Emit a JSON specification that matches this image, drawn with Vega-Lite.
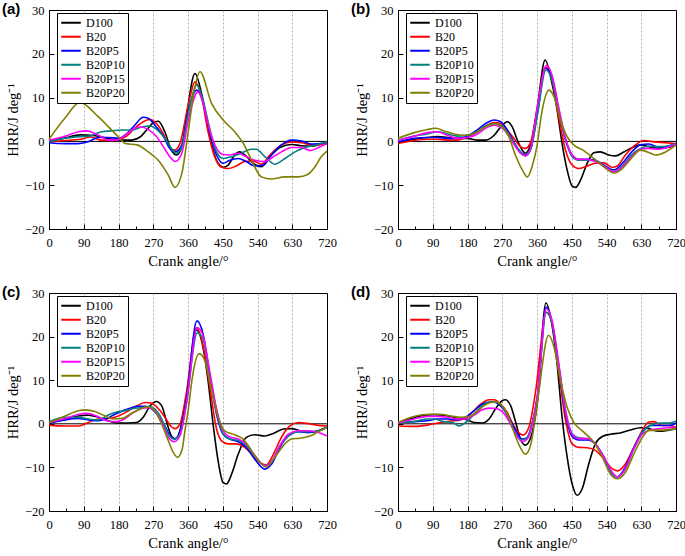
{
"$schema": "https://vega.github.io/schema/vega-lite/v6.json",
"padding": {"left": 1, "top": 1, "right": 0, "bottom": 0},
"background": "white",
"config": {
  "font": "Liberation Serif",
  "view": {"stroke": "black", "strokeWidth": 1},
  "axis": {"labelFont": "Liberation Serif", "labelFontSize": 12.5, "labelColor": "black", "titleFont": "Liberation Serif", "titleFontSize": 14.5, "titleFontWeight": "normal", "titleColor": "black", "domainColor": "black", "tickColor": "black", "gridColor": "#9a9a9a", "gridDash": [2, 2], "gridWidth": 0.8},
  "legend": {"labelFont": "Liberation Serif", "labelFontSize": 12, "labelColor": "black", "symbolType": "stroke", "symbolSize": 380, "symbolStrokeWidth": 2, "clipHeight": 13.6, "rowPadding": 0, "strokeColor": "black", "fillColor": "white", "padding": 3, "labelOffset": 4, "orient": "none", "legendX": 8, "legendY": 3},
  "title": {"font": "Liberation Sans", "fontWeight": "bold", "fontSize": 15, "anchor": "start", "frame": "group", "dx": -47, "dy": 17, "offset": 0, "baseline": "middle", "color": "black"}
},
"datasets": {
"a": [
{"s":"D100","x":0,"y":0},{"s":"D100","x":42,"y":0.8},{"s":"D100","x":81,"y":1.5},{"s":"D100","x":120,"y":1.3},{"s":"D100","x":162,"y":0.5},{"s":"D100","x":188,"y":0.3},{"s":"D100","x":214,"y":0.3},{"s":"D100","x":236,"y":1},{"s":"D100","x":253,"y":2.6},{"s":"D100","x":274,"y":4.5},{"s":"D100","x":283,"y":4.6},{"s":"D100","x":300,"y":2.2},{"s":"D100","x":317,"y":-2},{"s":"D100","x":330,"y":-3.1},{"s":"D100","x":344,"y":-1.2},{"s":"D100","x":357,"y":6.4},{"s":"D100","x":378,"y":15.5},{"s":"D100","x":395,"y":11},{"s":"D100","x":412,"y":3.3},{"s":"D100","x":425,"y":-2},{"s":"D100","x":438,"y":-5},{"s":"D100","x":451,"y":-5.9},{"s":"D100","x":464,"y":-5.4},{"s":"D100","x":481,"y":-3.1},{"s":"D100","x":494,"y":-2.4},{"s":"D100","x":507,"y":-3.1},{"s":"D100","x":529,"y":-5},{"s":"D100","x":550,"y":-5.8},{"s":"D100","x":572,"y":-3.5},{"s":"D100","x":598,"y":-1.4},{"s":"D100","x":628,"y":-0.7},{"s":"D100","x":654,"y":-1},{"s":"D100","x":680,"y":-1.1},{"s":"D100","x":720,"y":-0.1},
{"s":"B20","x":0,"y":-0.1},{"s":"B20","x":40,"y":0.2},{"s":"B20","x":81,"y":0.5},{"s":"B20","x":107,"y":1},{"s":"B20","x":133,"y":0.3},{"s":"B20","x":159,"y":0.2},{"s":"B20","x":180,"y":0.4},{"s":"B20","x":201,"y":1.2},{"s":"B20","x":222,"y":3},{"s":"B20","x":244,"y":4.5},{"s":"B20","x":261,"y":5},{"s":"B20","x":278,"y":4.1},{"s":"B20","x":296,"y":1.8},{"s":"B20","x":313,"y":-1.4},{"s":"B20","x":326,"y":-2},{"s":"B20","x":339,"y":-0.5},{"s":"B20","x":361,"y":8.5},{"s":"B20","x":378,"y":13.6},{"s":"B20","x":395,"y":10.2},{"s":"B20","x":412,"y":2.2},{"s":"B20","x":429,"y":-3.5},{"s":"B20","x":447,"y":-5.9},{"s":"B20","x":464,"y":-6.2},{"s":"B20","x":485,"y":-5.6},{"s":"B20","x":507,"y":-4.6},{"s":"B20","x":529,"y":-4.5},{"s":"B20","x":550,"y":-5.2},{"s":"B20","x":572,"y":-3.1},{"s":"B20","x":602,"y":-0.8},{"s":"B20","x":628,"y":-0.1},{"s":"B20","x":654,"y":-0.3},{"s":"B20","x":680,"y":-0.8},{"s":"B20","x":720,"y":-0.5},
{"s":"B20P5","x":0,"y":-0.3},{"s":"B20P5","x":42,"y":-0.5},{"s":"B20P5","x":76,"y":-0.5},{"s":"B20P5","x":102,"y":-0.1},{"s":"B20P5","x":128,"y":0.9},{"s":"B20P5","x":153,"y":0.9},{"s":"B20P5","x":180,"y":0.7},{"s":"B20P5","x":201,"y":1.7},{"s":"B20P5","x":222,"y":3.7},{"s":"B20P5","x":244,"y":5.5},{"s":"B20P5","x":257,"y":5.3},{"s":"B20P5","x":278,"y":3.3},{"s":"B20P5","x":296,"y":1.2},{"s":"B20P5","x":313,"y":-1.6},{"s":"B20P5","x":327,"y":-2.4},{"s":"B20P5","x":344,"y":-0.8},{"s":"B20P5","x":361,"y":7},{"s":"B20P5","x":383,"y":11.7},{"s":"B20P5","x":399,"y":9},{"s":"B20P5","x":416,"y":2.2},{"s":"B20P5","x":434,"y":-3.1},{"s":"B20P5","x":451,"y":-5},{"s":"B20P5","x":468,"y":-4.3},{"s":"B20P5","x":490,"y":-3.9},{"s":"B20P5","x":511,"y":-4.6},{"s":"B20P5","x":533,"y":-5.6},{"s":"B20P5","x":555,"y":-5.4},{"s":"B20P5","x":576,"y":-3.1},{"s":"B20P5","x":602,"y":-0.8},{"s":"B20P5","x":628,"y":0.3},{"s":"B20P5","x":654,"y":0.1},{"s":"B20P5","x":680,"y":-0.6},{"s":"B20P5","x":720,"y":-0.3},
{"s":"B20P10","x":0,"y":-0.1},{"s":"B20P10","x":42,"y":0.7},{"s":"B20P10","x":76,"y":1.1},{"s":"B20P10","x":102,"y":1.2},{"s":"B20P10","x":136,"y":2.2},{"s":"B20P10","x":162,"y":2.4},{"s":"B20P10","x":188,"y":2.6},{"s":"B20P10","x":214,"y":2.6},{"s":"B20P10","x":240,"y":3.3},{"s":"B20P10","x":261,"y":3.5},{"s":"B20P10","x":283,"y":2.4},{"s":"B20P10","x":300,"y":0.7},{"s":"B20P10","x":317,"y":-1.6},{"s":"B20P10","x":330,"y":-2.7},{"s":"B20P10","x":344,"y":-1.2},{"s":"B20P10","x":361,"y":6.5},{"s":"B20P10","x":383,"y":12.9},{"s":"B20P10","x":399,"y":9.4},{"s":"B20P10","x":416,"y":3},{"s":"B20P10","x":434,"y":-2.4},{"s":"B20P10","x":451,"y":-3.9},{"s":"B20P10","x":473,"y":-3.5},{"s":"B20P10","x":498,"y":-2.7},{"s":"B20P10","x":524,"y":-1.8},{"s":"B20P10","x":537,"y":-1.8},{"s":"B20P10","x":559,"y":-3.5},{"s":"B20P10","x":585,"y":-5.2},{"s":"B20P10","x":611,"y":-3.9},{"s":"B20P10","x":637,"y":-2.4},{"s":"B20P10","x":663,"y":-1.4},{"s":"B20P10","x":693,"y":-0.8},{"s":"B20P10","x":720,"y":-0.1},
{"s":"B20P15","x":0,"y":0.3},{"s":"B20P15","x":42,"y":1.2},{"s":"B20P15","x":76,"y":2.2},{"s":"B20P15","x":98,"y":2.4},{"s":"B20P15","x":128,"y":1.4},{"s":"B20P15","x":153,"y":0.3},{"s":"B20P15","x":175,"y":0.3},{"s":"B20P15","x":197,"y":1.4},{"s":"B20P15","x":222,"y":3},{"s":"B20P15","x":240,"y":3.3},{"s":"B20P15","x":257,"y":2.7},{"s":"B20P15","x":278,"y":1.2},{"s":"B20P15","x":296,"y":-1.2},{"s":"B20P15","x":313,"y":-3.5},{"s":"B20P15","x":327,"y":-4.6},{"s":"B20P15","x":344,"y":-2.7},{"s":"B20P15","x":361,"y":5},{"s":"B20P15","x":386,"y":11.3},{"s":"B20P15","x":399,"y":8.7},{"s":"B20P15","x":416,"y":2.6},{"s":"B20P15","x":434,"y":-1.6},{"s":"B20P15","x":451,"y":-3},{"s":"B20P15","x":468,"y":-3.1},{"s":"B20P15","x":490,"y":-2.7},{"s":"B20P15","x":511,"y":-3.5},{"s":"B20P15","x":533,"y":-4.3},{"s":"B20P15","x":559,"y":-4.6},{"s":"B20P15","x":581,"y":-3.5},{"s":"B20P15","x":602,"y":-2.4},{"s":"B20P15","x":628,"y":-1.4},{"s":"B20P15","x":654,"y":-1.4},{"s":"B20P15","x":676,"y":-2.1},{"s":"B20P15","x":698,"y":-1.4},{"s":"B20P15","x":720,"y":-0.5},
{"s":"B20P20","x":0,"y":0.5},{"s":"B20P20","x":42,"y":5.4},{"s":"B20P20","x":80,"y":8.9},{"s":"B20P20","x":128,"y":5.6},{"s":"B20P20","x":180,"y":1},{"s":"B20P20","x":198,"y":-0.5},{"s":"B20P20","x":228,"y":-0.8},{"s":"B20P20","x":257,"y":-2.4},{"s":"B20P20","x":283,"y":-4.3},{"s":"B20P20","x":309,"y":-7.7},{"s":"B20P20","x":326,"y":-10.5},{"s":"B20P20","x":344,"y":-7.3},{"s":"B20P20","x":361,"y":2.5},{"s":"B20P20","x":375,"y":11},{"s":"B20P20","x":391,"y":15.9},{"s":"B20P20","x":421,"y":8.7},{"s":"B20P20","x":451,"y":4.9},{"s":"B20P20","x":481,"y":2.2},{"s":"B20P20","x":503,"y":-0.4},{"s":"B20P20","x":524,"y":-4.2},{"s":"B20P20","x":550,"y":-8.1},{"s":"B20P20","x":576,"y":-8.6},{"s":"B20P20","x":610,"y":-8.1},{"s":"B20P20","x":645,"y":-8.1},{"s":"B20P20","x":671,"y":-7.5},{"s":"B20P20","x":689,"y":-5.8},{"s":"B20P20","x":705,"y":-3.5},{"s":"B20P20","x":720,"y":-2.2}
],
"b": [
{"s":"D100","x":0,"y":-0.3},{"s":"D100","x":42,"y":0.5},{"s":"D100","x":76,"y":0.9},{"s":"D100","x":102,"y":1.1},{"s":"D100","x":128,"y":0.9},{"s":"D100","x":153,"y":0.7},{"s":"D100","x":180,"y":0.7},{"s":"D100","x":206,"y":0.3},{"s":"D100","x":227,"y":0.3},{"s":"D100","x":249,"y":1.4},{"s":"D100","x":266,"y":3.3},{"s":"D100","x":283,"y":4.5},{"s":"D100","x":296,"y":3.3},{"s":"D100","x":309,"y":0.3},{"s":"D100","x":322,"y":-2},{"s":"D100","x":330,"y":-2.7},{"s":"D100","x":344,"y":-0.5},{"s":"D100","x":361,"y":7.9},{"s":"D100","x":381,"y":18.6},{"s":"D100","x":399,"y":13.2},{"s":"D100","x":412,"y":7.2},{"s":"D100","x":425,"y":-0.5},{"s":"D100","x":438,"y":-6.5},{"s":"D100","x":451,"y":-10.2},{"s":"D100","x":460,"y":-10.5},{"s":"D100","x":473,"y":-8.8},{"s":"D100","x":490,"y":-5},{"s":"D100","x":507,"y":-2.6},{"s":"D100","x":524,"y":-2.4},{"s":"D100","x":546,"y":-3.1},{"s":"D100","x":563,"y":-3.3},{"s":"D100","x":585,"y":-2.4},{"s":"D100","x":607,"y":-1.4},{"s":"D100","x":628,"y":-0.8},{"s":"D100","x":650,"y":-1.2},{"s":"D100","x":672,"y":-1.6},{"s":"D100","x":698,"y":-1.4},{"s":"D100","x":720,"y":-0.8},
{"s":"B20","x":0,"y":-0.5},{"s":"B20","x":42,"y":0.2},{"s":"B20","x":76,"y":0.5},{"s":"B20","x":102,"y":0.5},{"s":"B20","x":128,"y":0.3},{"s":"B20","x":153,"y":0.3},{"s":"B20","x":180,"y":1.1},{"s":"B20","x":206,"y":2.2},{"s":"B20","x":227,"y":3.5},{"s":"B20","x":249,"y":4.3},{"s":"B20","x":266,"y":4.1},{"s":"B20","x":283,"y":2.6},{"s":"B20","x":300,"y":0.7},{"s":"B20","x":317,"y":-1.2},{"s":"B20","x":330,"y":-1.6},{"s":"B20","x":344,"y":-0.1},{"s":"B20","x":361,"y":7.2},{"s":"B20","x":382,"y":17},{"s":"B20","x":399,"y":14},{"s":"B20","x":416,"y":5.6},{"s":"B20","x":434,"y":-2},{"s":"B20","x":451,"y":-5.4},{"s":"B20","x":468,"y":-6.2},{"s":"B20","x":490,"y":-5.6},{"s":"B20","x":511,"y":-5},{"s":"B20","x":533,"y":-4.9},{"s":"B20","x":555,"y":-5.9},{"s":"B20","x":568,"y":-5.6},{"s":"B20","x":589,"y":-3.1},{"s":"B20","x":611,"y":-1.1},{"s":"B20","x":637,"y":0.2},{"s":"B20","x":663,"y":-0.1},{"s":"B20","x":693,"y":-0.3},{"s":"B20","x":720,"y":-0.5},
{"s":"B20P5","x":0,"y":-0.1},{"s":"B20P5","x":42,"y":0.7},{"s":"B20P5","x":76,"y":0.9},{"s":"B20P5","x":102,"y":0.9},{"s":"B20P5","x":128,"y":0.7},{"s":"B20P5","x":153,"y":0.7},{"s":"B20P5","x":180,"y":1.2},{"s":"B20P5","x":206,"y":2.7},{"s":"B20P5","x":227,"y":4.1},{"s":"B20P5","x":249,"y":4.9},{"s":"B20P5","x":266,"y":4.5},{"s":"B20P5","x":283,"y":2.6},{"s":"B20P5","x":300,"y":-0.1},{"s":"B20P5","x":317,"y":-2.4},{"s":"B20P5","x":330,"y":-3.1},{"s":"B20P5","x":344,"y":-1.6},{"s":"B20P5","x":361,"y":6.4},{"s":"B20P5","x":382,"y":16.7},{"s":"B20P5","x":399,"y":14.4},{"s":"B20P5","x":416,"y":7.2},{"s":"B20P5","x":434,"y":0.3},{"s":"B20P5","x":451,"y":-3.1},{"s":"B20P5","x":468,"y":-4.1},{"s":"B20P5","x":490,"y":-4.1},{"s":"B20P5","x":511,"y":-4.3},{"s":"B20P5","x":533,"y":-5.4},{"s":"B20P5","x":559,"y":-6.5},{"s":"B20P5","x":581,"y":-5},{"s":"B20P5","x":602,"y":-2.7},{"s":"B20P5","x":628,"y":-0.8},{"s":"B20P5","x":650,"y":-0.6},{"s":"B20P5","x":676,"y":-1.4},{"s":"B20P5","x":698,"y":-1.1},{"s":"B20P5","x":720,"y":-0.5},
{"s":"B20P10","x":0,"y":0.3},{"s":"B20P10","x":42,"y":1.2},{"s":"B20P10","x":76,"y":1.7},{"s":"B20P10","x":102,"y":2.2},{"s":"B20P10","x":128,"y":1.7},{"s":"B20P10","x":153,"y":1.2},{"s":"B20P10","x":180,"y":1.4},{"s":"B20P10","x":206,"y":2.2},{"s":"B20P10","x":227,"y":3.5},{"s":"B20P10","x":249,"y":4.1},{"s":"B20P10","x":266,"y":3.7},{"s":"B20P10","x":283,"y":2.2},{"s":"B20P10","x":300,"y":-0.3},{"s":"B20P10","x":317,"y":-2.4},{"s":"B20P10","x":330,"y":-3.3},{"s":"B20P10","x":344,"y":-1.8},{"s":"B20P10","x":361,"y":6},{"s":"B20P10","x":383,"y":16.3},{"s":"B20P10","x":399,"y":14},{"s":"B20P10","x":416,"y":7.2},{"s":"B20P10","x":434,"y":0.3},{"s":"B20P10","x":451,"y":-3.5},{"s":"B20P10","x":468,"y":-4.3},{"s":"B20P10","x":490,"y":-4.3},{"s":"B20P10","x":511,"y":-4.4},{"s":"B20P10","x":533,"y":-5.6},{"s":"B20P10","x":559,"y":-6.8},{"s":"B20P10","x":581,"y":-5.6},{"s":"B20P10","x":602,"y":-3.3},{"s":"B20P10","x":628,"y":-1.6},{"s":"B20P10","x":650,"y":-1.1},{"s":"B20P10","x":676,"y":-1.2},{"s":"B20P10","x":698,"y":-1.1},{"s":"B20P10","x":720,"y":-0.5},
{"s":"B20P15","x":0,"y":0.2},{"s":"B20P15","x":42,"y":1.2},{"s":"B20P15","x":76,"y":2},{"s":"B20P15","x":102,"y":2.2},{"s":"B20P15","x":128,"y":1.4},{"s":"B20P15","x":153,"y":0.7},{"s":"B20P15","x":180,"y":0.9},{"s":"B20P15","x":206,"y":1.7},{"s":"B20P15","x":227,"y":3},{"s":"B20P15","x":249,"y":3.7},{"s":"B20P15","x":266,"y":3.3},{"s":"B20P15","x":283,"y":1.8},{"s":"B20P15","x":300,"y":-0.6},{"s":"B20P15","x":317,"y":-2.7},{"s":"B20P15","x":330,"y":-3.3},{"s":"B20P15","x":344,"y":-1.4},{"s":"B20P15","x":361,"y":8},{"s":"B20P15","x":385,"y":17.4},{"s":"B20P15","x":399,"y":15.1},{"s":"B20P15","x":416,"y":7.9},{"s":"B20P15","x":434,"y":0.7},{"s":"B20P15","x":451,"y":-3.1},{"s":"B20P15","x":468,"y":-4.1},{"s":"B20P15","x":490,"y":-4.1},{"s":"B20P15","x":511,"y":-4.6},{"s":"B20P15","x":533,"y":-5.6},{"s":"B20P15","x":559,"y":-6.9},{"s":"B20P15","x":581,"y":-5.8},{"s":"B20P15","x":602,"y":-3.7},{"s":"B20P15","x":628,"y":-1.8},{"s":"B20P15","x":650,"y":-1.6},{"s":"B20P15","x":676,"y":-1.8},{"s":"B20P15","x":698,"y":-1.4},{"s":"B20P15","x":720,"y":-0.6},
{"s":"B20P20","x":0,"y":0.7},{"s":"B20P20","x":42,"y":2},{"s":"B20P20","x":76,"y":2.7},{"s":"B20P20","x":98,"y":3},{"s":"B20P20","x":119,"y":2.4},{"s":"B20P20","x":145,"y":1.7},{"s":"B20P20","x":171,"y":1.4},{"s":"B20P20","x":192,"y":1.7},{"s":"B20P20","x":214,"y":2.7},{"s":"B20P20","x":236,"y":3.7},{"s":"B20P20","x":253,"y":4},{"s":"B20P20","x":270,"y":3.3},{"s":"B20P20","x":287,"y":1.1},{"s":"B20P20","x":304,"y":-3.1},{"s":"B20P20","x":322,"y":-6.5},{"s":"B20P20","x":335,"y":-8.1},{"s":"B20P20","x":348,"y":-5.5},{"s":"B20P20","x":360,"y":-1},{"s":"B20P20","x":372,"y":6.4},{"s":"B20P20","x":391,"y":11.7},{"s":"B20P20","x":404,"y":10.2},{"s":"B20P20","x":421,"y":4.9},{"s":"B20P20","x":438,"y":1.1},{"s":"B20P20","x":455,"y":-0.8},{"s":"B20P20","x":481,"y":-2.1},{"s":"B20P20","x":507,"y":-3.9},{"s":"B20P20","x":533,"y":-5.8},{"s":"B20P20","x":559,"y":-7.2},{"s":"B20P20","x":581,"y":-6.2},{"s":"B20P20","x":602,"y":-4.1},{"s":"B20P20","x":628,"y":-2},{"s":"B20P20","x":646,"y":-2.4},{"s":"B20P20","x":667,"y":-3.1},{"s":"B20P20","x":693,"y":-2.4},{"s":"B20P20","x":720,"y":-0.8}
],
"c": [
{"s":"D100","x":0,"y":0.2},{"s":"D100","x":42,"y":1.1},{"s":"D100","x":76,"y":1.8},{"s":"D100","x":102,"y":2},{"s":"D100","x":128,"y":1.5},{"s":"D100","x":153,"y":0.7},{"s":"D100","x":180,"y":0.2},{"s":"D100","x":206,"y":0.2},{"s":"D100","x":227,"y":0.3},{"s":"D100","x":244,"y":1.5},{"s":"D100","x":261,"y":4},{"s":"D100","x":278,"y":5.1},{"s":"D100","x":292,"y":4.1},{"s":"D100","x":305,"y":0.3},{"s":"D100","x":317,"y":-2.8},{"s":"D100","x":327,"y":-3.5},{"s":"D100","x":339,"y":-1.6},{"s":"D100","x":356,"y":6.4},{"s":"D100","x":382,"y":21.5},{"s":"D100","x":399,"y":17.5},{"s":"D100","x":412,"y":9.9},{"s":"D100","x":425,"y":-0.1},{"s":"D100","x":438,"y":-8.5},{"s":"D100","x":451,"y":-13.5},{"s":"D100","x":460,"y":-13.8},{"s":"D100","x":473,"y":-11.5},{"s":"D100","x":490,"y":-7},{"s":"D100","x":511,"y":-3.1},{"s":"D100","x":533,"y":-2.5},{"s":"D100","x":559,"y":-2.8},{"s":"D100","x":581,"y":-2.2},{"s":"D100","x":607,"y":-1.2},{"s":"D100","x":628,"y":-1.1},{"s":"D100","x":650,"y":-1.6},{"s":"D100","x":676,"y":-2},{"s":"D100","x":698,"y":-1.6},{"s":"D100","x":720,"y":-0.8},
{"s":"B20","x":0,"y":-0.3},{"s":"B20","x":42,"y":-0.5},{"s":"B20","x":76,"y":-0.5},{"s":"B20","x":102,"y":0.3},{"s":"B20","x":128,"y":1.1},{"s":"B20","x":153,"y":1.2},{"s":"B20","x":180,"y":1.8},{"s":"B20","x":206,"y":3},{"s":"B20","x":227,"y":4.1},{"s":"B20","x":249,"y":4.9},{"s":"B20","x":266,"y":4.7},{"s":"B20","x":283,"y":3.5},{"s":"B20","x":300,"y":1.5},{"s":"B20","x":315,"y":-0.5},{"s":"B20","x":326,"y":-1.1},{"s":"B20","x":339,"y":-0.1},{"s":"B20","x":356,"y":7.2},{"s":"B20","x":382,"y":22},{"s":"B20","x":399,"y":17.9},{"s":"B20","x":416,"y":8.7},{"s":"B20","x":434,"y":-1.2},{"s":"B20","x":447,"y":-3.9},{"s":"B20","x":464,"y":-4.6},{"s":"B20","x":485,"y":-4.6},{"s":"B20","x":507,"y":-5.4},{"s":"B20","x":529,"y":-7.3},{"s":"B20","x":550,"y":-9.1},{"s":"B20","x":563,"y":-9.4},{"s":"B20","x":581,"y":-7},{"s":"B20","x":602,"y":-3.1},{"s":"B20","x":624,"y":-0.5},{"s":"B20","x":646,"y":0.3},{"s":"B20","x":667,"y":0.1},{"s":"B20","x":693,"y":-0.3},{"s":"B20","x":720,"y":-0.5},
{"s":"B20P5","x":0,"y":0.2},{"s":"B20P5","x":42,"y":0.9},{"s":"B20P5","x":76,"y":1.2},{"s":"B20P5","x":102,"y":0.9},{"s":"B20P5","x":128,"y":0.7},{"s":"B20P5","x":149,"y":1.2},{"s":"B20P5","x":171,"y":2.2},{"s":"B20P5","x":192,"y":3},{"s":"B20P5","x":214,"y":3.7},{"s":"B20P5","x":231,"y":4},{"s":"B20P5","x":249,"y":4},{"s":"B20P5","x":266,"y":3.4},{"s":"B20P5","x":283,"y":1.8},{"s":"B20P5","x":300,"y":-0.5},{"s":"B20P5","x":315,"y":-2.8},{"s":"B20P5","x":326,"y":-3.4},{"s":"B20P5","x":339,"y":-2},{"s":"B20P5","x":356,"y":5.7},{"s":"B20P5","x":383,"y":23.6},{"s":"B20P5","x":399,"y":20.6},{"s":"B20P5","x":416,"y":11.4},{"s":"B20P5","x":434,"y":2.2},{"s":"B20P5","x":451,"y":-2.4},{"s":"B20P5","x":468,"y":-3.5},{"s":"B20P5","x":490,"y":-4.1},{"s":"B20P5","x":511,"y":-5.4},{"s":"B20P5","x":533,"y":-8.1},{"s":"B20P5","x":559,"y":-10.4},{"s":"B20P5","x":576,"y":-9.3},{"s":"B20P5","x":598,"y":-5.4},{"s":"B20P5","x":620,"y":-2.8},{"s":"B20P5","x":646,"y":-1.8},{"s":"B20P5","x":672,"y":-2},{"s":"B20P5","x":698,"y":-1.6},{"s":"B20P5","x":720,"y":-0.8},
{"s":"B20P10","x":0,"y":0.5},{"s":"B20P10","x":42,"y":1.5},{"s":"B20P10","x":76,"y":1.5},{"s":"B20P10","x":102,"y":1.1},{"s":"B20P10","x":128,"y":0.9},{"s":"B20P10","x":149,"y":1.8},{"s":"B20P10","x":171,"y":2.6},{"s":"B20P10","x":197,"y":3},{"s":"B20P10","x":218,"y":3.5},{"s":"B20P10","x":240,"y":3.7},{"s":"B20P10","x":257,"y":4},{"s":"B20P10","x":274,"y":3.4},{"s":"B20P10","x":292,"y":1.1},{"s":"B20P10","x":309,"y":-2.4},{"s":"B20P10","x":324,"y":-3.5},{"s":"B20P10","x":339,"y":-2.4},{"s":"B20P10","x":356,"y":4.9},{"s":"B20P10","x":384,"y":20.9},{"s":"B20P10","x":399,"y":19.4},{"s":"B20P10","x":416,"y":11.4},{"s":"B20P10","x":434,"y":3},{"s":"B20P10","x":451,"y":-2.4},{"s":"B20P10","x":468,"y":-3.5},{"s":"B20P10","x":490,"y":-3.8},{"s":"B20P10","x":511,"y":-5},{"s":"B20P10","x":533,"y":-7.5},{"s":"B20P10","x":559,"y":-9.6},{"s":"B20P10","x":578,"y":-8.5},{"s":"B20P10","x":598,"y":-5},{"s":"B20P10","x":620,"y":-2.8},{"s":"B20P10","x":646,"y":-1.8},{"s":"B20P10","x":672,"y":-1.8},{"s":"B20P10","x":698,"y":-1.6},{"s":"B20P10","x":720,"y":-0.7},
{"s":"B20P15","x":0,"y":0.3},{"s":"B20P15","x":42,"y":1.2},{"s":"B20P15","x":76,"y":2.2},{"s":"B20P15","x":98,"y":2.4},{"s":"B20P15","x":123,"y":1.8},{"s":"B20P15","x":149,"y":0.7},{"s":"B20P15","x":175,"y":0.5},{"s":"B20P15","x":197,"y":1.2},{"s":"B20P15","x":218,"y":2.6},{"s":"B20P15","x":240,"y":3.5},{"s":"B20P15","x":257,"y":3.7},{"s":"B20P15","x":274,"y":3},{"s":"B20P15","x":292,"y":0.3},{"s":"B20P15","x":309,"y":-3.1},{"s":"B20P15","x":324,"y":-4.1},{"s":"B20P15","x":339,"y":-2.8},{"s":"B20P15","x":356,"y":4.5},{"s":"B20P15","x":384,"y":22.1},{"s":"B20P15","x":399,"y":20.2},{"s":"B20P15","x":416,"y":12.2},{"s":"B20P15","x":434,"y":3.4},{"s":"B20P15","x":451,"y":-1.6},{"s":"B20P15","x":468,"y":-3},{"s":"B20P15","x":490,"y":-3.5},{"s":"B20P15","x":511,"y":-4.7},{"s":"B20P15","x":533,"y":-7.3},{"s":"B20P15","x":559,"y":-9.6},{"s":"B20P15","x":578,"y":-8.5},{"s":"B20P15","x":598,"y":-5},{"s":"B20P15","x":620,"y":-2.4},{"s":"B20P15","x":646,"y":-1.6},{"s":"B20P15","x":672,"y":-1.6},{"s":"B20P15","x":698,"y":-2},{"s":"B20P15","x":720,"y":-2.8},
{"s":"B20P20","x":0,"y":0.3},{"s":"B20P20","x":42,"y":1.8},{"s":"B20P20","x":76,"y":3},{"s":"B20P20","x":93,"y":3.2},{"s":"B20P20","x":119,"y":2.8},{"s":"B20P20","x":145,"y":1.8},{"s":"B20P20","x":166,"y":1.1},{"s":"B20P20","x":188,"y":1.2},{"s":"B20P20","x":214,"y":2.4},{"s":"B20P20","x":240,"y":3.5},{"s":"B20P20","x":257,"y":3.9},{"s":"B20P20","x":274,"y":3},{"s":"B20P20","x":292,"y":-0.1},{"s":"B20P20","x":309,"y":-3.9},{"s":"B20P20","x":322,"y":-6.6},{"s":"B20P20","x":333,"y":-7.7},{"s":"B20P20","x":345,"y":-5.8},{"s":"B20P20","x":352,"y":-1.6},{"s":"B20P20","x":361,"y":3.4},{"s":"B20P20","x":370,"y":9.9},{"s":"B20P20","x":389,"y":16.1},{"s":"B20P20","x":404,"y":14.4},{"s":"B20P20","x":421,"y":7.6},{"s":"B20P20","x":438,"y":1.5},{"s":"B20P20","x":455,"y":-1.6},{"s":"B20P20","x":481,"y":-2.5},{"s":"B20P20","x":503,"y":-3.5},{"s":"B20P20","x":524,"y":-6.1},{"s":"B20P20","x":546,"y":-8.8},{"s":"B20P20","x":563,"y":-9.9},{"s":"B20P20","x":585,"y":-7.7},{"s":"B20P20","x":607,"y":-5},{"s":"B20P20","x":628,"y":-3.5},{"s":"B20P20","x":650,"y":-3.3},{"s":"B20P20","x":676,"y":-2.8},{"s":"B20P20","x":698,"y":-1.8},{"s":"B20P20","x":720,"y":-0.8}
],
"d": [
{"s":"D100","x":0,"y":0.2},{"s":"D100","x":34,"y":1.2},{"s":"D100","x":68,"y":2},{"s":"D100","x":93,"y":2.1},{"s":"D100","x":119,"y":2},{"s":"D100","x":145,"y":1.5},{"s":"D100","x":171,"y":1.1},{"s":"D100","x":197,"y":0.3},{"s":"D100","x":218,"y":0.2},{"s":"D100","x":236,"y":1.1},{"s":"D100","x":253,"y":3.5},{"s":"D100","x":270,"y":5.3},{"s":"D100","x":278,"y":5.5},{"s":"D100","x":292,"y":4.1},{"s":"D100","x":305,"y":0.3},{"s":"D100","x":317,"y":-3.5},{"s":"D100","x":330,"y":-4.9},{"s":"D100","x":344,"y":-3.1},{"s":"D100","x":361,"y":4.9},{"s":"D100","x":383,"y":27.7},{"s":"D100","x":399,"y":22.6},{"s":"D100","x":412,"y":13.8},{"s":"D100","x":425,"y":1.5},{"s":"D100","x":438,"y":-7.6},{"s":"D100","x":451,"y":-13.8},{"s":"D100","x":464,"y":-16.4},{"s":"D100","x":477,"y":-14.9},{"s":"D100","x":494,"y":-9.2},{"s":"D100","x":511,"y":-4.6},{"s":"D100","x":529,"y":-2.9},{"s":"D100","x":550,"y":-2.4},{"s":"D100","x":576,"y":-2.1},{"s":"D100","x":602,"y":-1.4},{"s":"D100","x":628,"y":-0.9},{"s":"D100","x":650,"y":-1.1},{"s":"D100","x":672,"y":-1.7},{"s":"D100","x":698,"y":-1.5},{"s":"D100","x":720,"y":-1.1},
{"s":"B20","x":0,"y":-0.5},{"s":"B20","x":42,"y":-0.6},{"s":"B20","x":76,"y":-0.3},{"s":"B20","x":110,"y":0.3},{"s":"B20","x":145,"y":0.7},{"s":"B20","x":171,"y":1.1},{"s":"B20","x":192,"y":2.6},{"s":"B20","x":214,"y":4.5},{"s":"B20","x":236,"y":5.5},{"s":"B20","x":249,"y":5.5},{"s":"B20","x":266,"y":4.5},{"s":"B20","x":283,"y":2.6},{"s":"B20","x":300,"y":-0.5},{"s":"B20","x":313,"y":-2.1},{"s":"B20","x":324,"y":-2.6},{"s":"B20","x":339,"y":-0.8},{"s":"B20","x":356,"y":7.2},{"s":"B20","x":384,"y":25.6},{"s":"B20","x":399,"y":23},{"s":"B20","x":416,"y":12.2},{"s":"B20","x":434,"y":0.8},{"s":"B20","x":451,"y":-4.6},{"s":"B20","x":468,"y":-5.4},{"s":"B20","x":490,"y":-5.5},{"s":"B20","x":511,"y":-6.1},{"s":"B20","x":533,"y":-8},{"s":"B20","x":555,"y":-10.3},{"s":"B20","x":568,"y":-10.8},{"s":"B20","x":589,"y":-9.2},{"s":"B20","x":611,"y":-5.4},{"s":"B20","x":633,"y":-1.5},{"s":"B20","x":650,"y":0.4},{"s":"B20","x":663,"y":0.5},{"s":"B20","x":684,"y":-0.4},{"s":"B20","x":702,"y":-0.4},{"s":"B20","x":720,"y":-0.8},
{"s":"B20P5","x":0,"y":0.3},{"s":"B20P5","x":42,"y":0.5},{"s":"B20P5","x":76,"y":0.7},{"s":"B20P5","x":102,"y":1.1},{"s":"B20P5","x":128,"y":1.1},{"s":"B20P5","x":153,"y":0.9},{"s":"B20P5","x":175,"y":1.5},{"s":"B20P5","x":197,"y":3},{"s":"B20P5","x":218,"y":4.5},{"s":"B20P5","x":240,"y":5},{"s":"B20P5","x":253,"y":4.9},{"s":"B20P5","x":270,"y":3.7},{"s":"B20P5","x":287,"y":1.5},{"s":"B20P5","x":305,"y":-1.6},{"s":"B20P5","x":322,"y":-3.5},{"s":"B20P5","x":335,"y":-3.1},{"s":"B20P5","x":348,"y":0.3},{"s":"B20P5","x":361,"y":6.4},{"s":"B20P5","x":384,"y":26.8},{"s":"B20P5","x":399,"y":23.3},{"s":"B20P5","x":416,"y":13.4},{"s":"B20P5","x":434,"y":2.3},{"s":"B20P5","x":451,"y":-2.9},{"s":"B20P5","x":468,"y":-3.7},{"s":"B20P5","x":490,"y":-3.7},{"s":"B20P5","x":511,"y":-4.6},{"s":"B20P5","x":533,"y":-7.6},{"s":"B20P5","x":555,"y":-11.5},{"s":"B20P5","x":568,"y":-12.2},{"s":"B20P5","x":589,"y":-9.9},{"s":"B20P5","x":611,"y":-5.4},{"s":"B20P5","x":633,"y":-1.9},{"s":"B20P5","x":654,"y":-0.4},{"s":"B20P5","x":680,"y":-0.4},{"s":"B20P5","x":702,"y":-0.4},{"s":"B20P5","x":720,"y":0.2},
{"s":"B20P10","x":0,"y":0.3},{"s":"B20P10","x":42,"y":0.5},{"s":"B20P10","x":76,"y":1.1},{"s":"B20P10","x":93,"y":1.1},{"s":"B20P10","x":119,"y":0.5},{"s":"B20P10","x":141,"y":0.3},{"s":"B20P10","x":158,"y":-0.5},{"s":"B20P10","x":175,"y":0.3},{"s":"B20P10","x":197,"y":2.2},{"s":"B20P10","x":218,"y":4.1},{"s":"B20P10","x":240,"y":5},{"s":"B20P10","x":253,"y":5},{"s":"B20P10","x":270,"y":4},{"s":"B20P10","x":287,"y":1.1},{"s":"B20P10","x":305,"y":-2.4},{"s":"B20P10","x":322,"y":-3.7},{"s":"B20P10","x":335,"y":-3.1},{"s":"B20P10","x":348,"y":0.3},{"s":"B20P10","x":361,"y":6},{"s":"B20P10","x":384,"y":25.6},{"s":"B20P10","x":399,"y":23},{"s":"B20P10","x":416,"y":13.4},{"s":"B20P10","x":434,"y":2.7},{"s":"B20P10","x":451,"y":-2.3},{"s":"B20P10","x":468,"y":-3.2},{"s":"B20P10","x":490,"y":-3.4},{"s":"B20P10","x":511,"y":-4.6},{"s":"B20P10","x":533,"y":-8},{"s":"B20P10","x":555,"y":-11.5},{"s":"B20P10","x":568,"y":-12.2},{"s":"B20P10","x":589,"y":-10.3},{"s":"B20P10","x":611,"y":-5.7},{"s":"B20P10","x":633,"y":-1.9},{"s":"B20P10","x":654,"y":-0.4},{"s":"B20P10","x":680,"y":0.2},{"s":"B20P10","x":702,"y":0.2},{"s":"B20P10","x":720,"y":0.6},
{"s":"B20P15","x":0,"y":0.2},{"s":"B20P15","x":42,"y":1.1},{"s":"B20P15","x":76,"y":1.7},{"s":"B20P15","x":102,"y":1.7},{"s":"B20P15","x":128,"y":1.5},{"s":"B20P15","x":153,"y":1.1},{"s":"B20P15","x":175,"y":1.1},{"s":"B20P15","x":197,"y":2},{"s":"B20P15","x":218,"y":3.2},{"s":"B20P15","x":236,"y":3.6},{"s":"B20P15","x":253,"y":3.5},{"s":"B20P15","x":270,"y":2.8},{"s":"B20P15","x":287,"y":0.7},{"s":"B20P15","x":305,"y":-2.4},{"s":"B20P15","x":322,"y":-4.1},{"s":"B20P15","x":335,"y":-3.5},{"s":"B20P15","x":348,"y":-0.1},{"s":"B20P15","x":361,"y":6.4},{"s":"B20P15","x":384,"y":26.4},{"s":"B20P15","x":399,"y":23.7},{"s":"B20P15","x":416,"y":14.1},{"s":"B20P15","x":434,"y":3.1},{"s":"B20P15","x":451,"y":-2.3},{"s":"B20P15","x":468,"y":-3.4},{"s":"B20P15","x":490,"y":-3.4},{"s":"B20P15","x":511,"y":-4.6},{"s":"B20P15","x":533,"y":-7.5},{"s":"B20P15","x":555,"y":-11.1},{"s":"B20P15","x":568,"y":-12.2},{"s":"B20P15","x":589,"y":-10.3},{"s":"B20P15","x":611,"y":-5.7},{"s":"B20P15","x":633,"y":-2.3},{"s":"B20P15","x":654,"y":-1.4},{"s":"B20P15","x":680,"y":-1.1},{"s":"B20P15","x":702,"y":-0.9},{"s":"B20P15","x":720,"y":-0.8},
{"s":"B20P20","x":0,"y":0.3},{"s":"B20P20","x":34,"y":1.5},{"s":"B20P20","x":59,"y":2},{"s":"B20P20","x":85,"y":2.2},{"s":"B20P20","x":110,"y":2.2},{"s":"B20P20","x":136,"y":1.8},{"s":"B20P20","x":162,"y":1.5},{"s":"B20P20","x":184,"y":1.7},{"s":"B20P20","x":205,"y":2.8},{"s":"B20P20","x":222,"y":4.1},{"s":"B20P20","x":240,"y":4.9},{"s":"B20P20","x":253,"y":5},{"s":"B20P20","x":270,"y":4.1},{"s":"B20P20","x":287,"y":1.5},{"s":"B20P20","x":304,"y":-2.8},{"s":"B20P20","x":319,"y":-5.8},{"s":"B20P20","x":330,"y":-7},{"s":"B20P20","x":344,"y":-4.7},{"s":"B20P20","x":361,"y":4.9},{"s":"B20P20","x":390,"y":20.3},{"s":"B20P20","x":404,"y":17.6},{"s":"B20P20","x":421,"y":9.9},{"s":"B20P20","x":438,"y":3.8},{"s":"B20P20","x":455,"y":0.4},{"s":"B20P20","x":481,"y":-1.9},{"s":"B20P20","x":507,"y":-4.2},{"s":"B20P20","x":529,"y":-7.6},{"s":"B20P20","x":550,"y":-11.5},{"s":"B20P20","x":568,"y":-12.6},{"s":"B20P20","x":589,"y":-11.1},{"s":"B20P20","x":611,"y":-6.9},{"s":"B20P20","x":633,"y":-3.1},{"s":"B20P20","x":650,"y":-1.5},{"s":"B20P20","x":676,"y":-1.5},{"s":"B20P20","x":698,"y":-1.4},{"s":"B20P20","x":720,"y":-1.1}
]
},
"vconcat": [
 {"hconcat": [
  {"title": "(a)", "width": 278, "height": 219, "layer": [
   {"data": {"values": [{}]}, "mark": {"type": "rule", "color": "black", "strokeWidth": 1}, "encoding": {"y": {"datum": 0, "type": "quantitative"}}},
   {"data": {"name": "a"}, "mark": {"type": "line", "interpolate": "monotone", "strokeWidth": 1.6},
    "encoding": {
     "x": {"field": "x", "type": "quantitative", "title": "Crank angle/°", "scale": {"domain": [0, 720], "nice": false}, "axis": {"values": [0,45,90,135,180,225,270,315,360,405,450,495,540,585,630,675,720], "labelExpr": "datum.value % 90 === 0 ? datum.label : ''", "tickSize": {"condition": {"test": "datum.value % 90 === 0", "value": -5}, "value": -3}, "labelPadding": 12, "grid": true, "gridOpacity": {"condition": {"test": "datum.value % 90 === 0 && datum.value > 0 && datum.value < 720", "value": 1}, "value": 0}, "titlePadding": 6, "labelFlush": false}},
     "y": {"field": "y", "type": "quantitative", "title": "HRR/J deg⁻¹", "scale": {"domain": [-20, 30], "nice": false}, "axis": {"values": [-20,-15,-10,-5,0,5,10,15,20,25,30], "labelExpr": "datum.value % 10 === 0 ? datum.label : ''", "tickSize": {"condition": {"test": "datum.value % 10 === 0", "value": -5}, "value": -3}, "labelPadding": 10, "grid": false, "titlePadding": 4, "labelFlush": false}},
     "color": {"field": "s", "type": "nominal", "sort": null, "scale": {"domain": ["D100","B20","B20P5","B20P10","B20P15","B20P20"], "range": ["#000000","#ff0000","#0000ff","#008080","#ff00ff","#808000"]}, "legend": {"title": null}}
    }}
  ]},
  {"title": "(b)", "width": 278, "height": 219, "layer": [
   {"data": {"values": [{}]}, "mark": {"type": "rule", "color": "black", "strokeWidth": 1}, "encoding": {"y": {"datum": 0, "type": "quantitative"}}},
   {"data": {"name": "b"}, "mark": {"type": "line", "interpolate": "monotone", "strokeWidth": 1.6},
    "encoding": {
     "x": {"field": "x", "type": "quantitative", "title": "Crank angle/°", "scale": {"domain": [0, 720], "nice": false}, "axis": {"values": [0,45,90,135,180,225,270,315,360,405,450,495,540,585,630,675,720], "labelExpr": "datum.value % 90 === 0 ? datum.label : ''", "tickSize": {"condition": {"test": "datum.value % 90 === 0", "value": -5}, "value": -3}, "labelPadding": 12, "grid": true, "gridOpacity": {"condition": {"test": "datum.value % 90 === 0 && datum.value > 0 && datum.value < 720", "value": 1}, "value": 0}, "titlePadding": 6, "labelFlush": false}},
     "y": {"field": "y", "type": "quantitative", "title": "HRR/J deg⁻¹", "scale": {"domain": [-20, 30], "nice": false}, "axis": {"values": [-20,-15,-10,-5,0,5,10,15,20,25,30], "labelExpr": "datum.value % 10 === 0 ? datum.label : ''", "tickSize": {"condition": {"test": "datum.value % 10 === 0", "value": -5}, "value": -3}, "labelPadding": 10, "grid": false, "titlePadding": 4, "labelFlush": false}},
     "color": {"field": "s", "type": "nominal", "sort": null, "scale": {"domain": ["D100","B20","B20P5","B20P10","B20P15","B20P20"], "range": ["#000000","#ff0000","#0000ff","#008080","#ff00ff","#808000"]}, "legend": {"title": null}}
    }}
  ]}
 ], "spacing": 13, "resolve": {"scale": {"color": "independent"}, "legend": {"color": "independent"}}},
 {"hconcat": [
  {"title": "(c)", "width": 278, "height": 218, "layer": [
   {"data": {"values": [{}]}, "mark": {"type": "rule", "color": "black", "strokeWidth": 1}, "encoding": {"y": {"datum": 0, "type": "quantitative"}}},
   {"data": {"name": "c"}, "mark": {"type": "line", "interpolate": "monotone", "strokeWidth": 1.6},
    "encoding": {
     "x": {"field": "x", "type": "quantitative", "title": "Crank angle/°", "scale": {"domain": [0, 720], "nice": false}, "axis": {"values": [0,45,90,135,180,225,270,315,360,405,450,495,540,585,630,675,720], "labelExpr": "datum.value % 90 === 0 ? datum.label : ''", "tickSize": {"condition": {"test": "datum.value % 90 === 0", "value": -5}, "value": -3}, "labelPadding": 12, "grid": true, "gridOpacity": {"condition": {"test": "datum.value % 90 === 0 && datum.value > 0 && datum.value < 720", "value": 1}, "value": 0}, "titlePadding": 6, "labelFlush": false}},
     "y": {"field": "y", "type": "quantitative", "title": "HRR/J deg⁻¹", "scale": {"domain": [-20, 30], "nice": false}, "axis": {"values": [-20,-15,-10,-5,0,5,10,15,20,25,30], "labelExpr": "datum.value % 10 === 0 ? datum.label : ''", "tickSize": {"condition": {"test": "datum.value % 10 === 0", "value": -5}, "value": -3}, "labelPadding": 10, "grid": false, "titlePadding": 4, "labelFlush": false}},
     "color": {"field": "s", "type": "nominal", "sort": null, "scale": {"domain": ["D100","B20","B20P5","B20P10","B20P15","B20P20"], "range": ["#000000","#ff0000","#0000ff","#008080","#ff00ff","#808000"]}, "legend": {"title": null}}
    }}
  ]},
  {"title": "(d)", "width": 278, "height": 218, "layer": [
   {"data": {"values": [{}]}, "mark": {"type": "rule", "color": "black", "strokeWidth": 1}, "encoding": {"y": {"datum": 0, "type": "quantitative"}}},
   {"data": {"name": "d"}, "mark": {"type": "line", "interpolate": "monotone", "strokeWidth": 1.6},
    "encoding": {
     "x": {"field": "x", "type": "quantitative", "title": "Crank angle/°", "scale": {"domain": [0, 720], "nice": false}, "axis": {"values": [0,45,90,135,180,225,270,315,360,405,450,495,540,585,630,675,720], "labelExpr": "datum.value % 90 === 0 ? datum.label : ''", "tickSize": {"condition": {"test": "datum.value % 90 === 0", "value": -5}, "value": -3}, "labelPadding": 12, "grid": true, "gridOpacity": {"condition": {"test": "datum.value % 90 === 0 && datum.value > 0 && datum.value < 720", "value": 1}, "value": 0}, "titlePadding": 6, "labelFlush": false}},
     "y": {"field": "y", "type": "quantitative", "title": "HRR/J deg⁻¹", "scale": {"domain": [-20, 30], "nice": false}, "axis": {"values": [-20,-15,-10,-5,0,5,10,15,20,25,30], "labelExpr": "datum.value % 10 === 0 ? datum.label : ''", "tickSize": {"condition": {"test": "datum.value % 10 === 0", "value": -5}, "value": -3}, "labelPadding": 10, "grid": false, "titlePadding": 4, "labelFlush": false}},
     "color": {"field": "s", "type": "nominal", "sort": null, "scale": {"domain": ["D100","B20","B20P5","B20P10","B20P15","B20P20"], "range": ["#000000","#ff0000","#0000ff","#008080","#ff00ff","#808000"]}, "legend": {"title": null}}
    }}
  ]}
 ], "spacing": 13, "resolve": {"scale": {"color": "independent"}, "legend": {"color": "independent"}}}
],
"spacing": 15
}
